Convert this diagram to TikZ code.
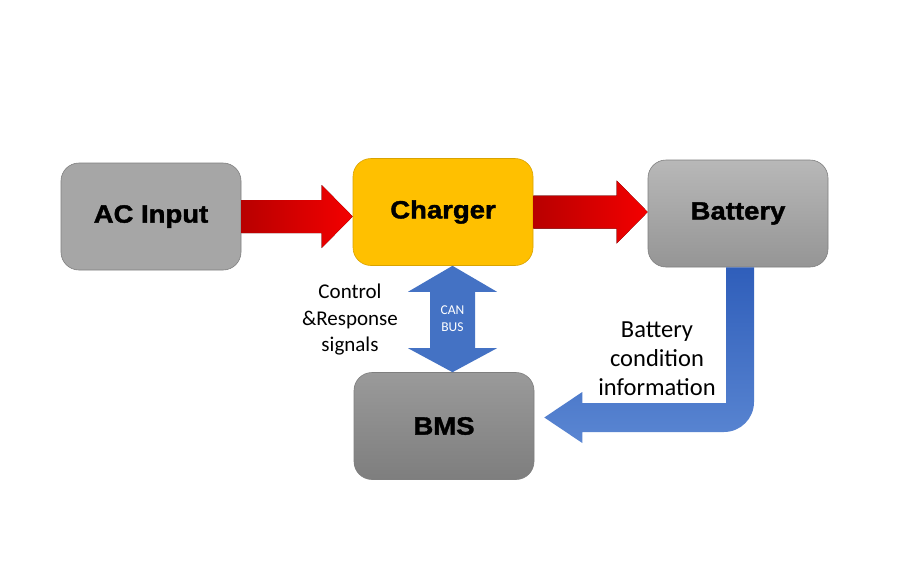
\documentclass[tikz,border=0pt]{standalone}
\usepackage{fontspec}
\setmainfont{Carlito}
\newfontfamily\boxfont{Liberation Sans}[FakeStretch=1.1,FakeBold=1.6]
\usetikzlibrary{calc}

\definecolor{boxedge}{HTML}{7F7F7F}
\definecolor{acgray}{HTML}{A6A6A6}
\definecolor{chargerfill}{HTML}{FFC000}
\definecolor{chargeredge}{HTML}{D9A300}
\definecolor{batttop}{HTML}{B8B8B8}
\definecolor{battbot}{HTML}{959595}
\definecolor{bmstop}{HTML}{9A9A9A}
\definecolor{bmsbot}{HTML}{7E7E7E}
\definecolor{powerdark}{HTML}{B80000}
\definecolor{powerlight}{HTML}{F40000}
\definecolor{canblue}{HTML}{4472C4}
\definecolor{infotop}{HTML}{2F5EBA}
\definecolor{infobot}{HTML}{5A86D2}

\tikzset{
  block/.style={rounded corners=18pt, draw=boxedge, line width=0.6pt,
    minimum width=180pt, minimum height=107pt,
    font=\boxfont\bfseries\fontsize{25}{29}\selectfont},
  power/.style={left color=powerdark, right color=powerlight},
  note/.style={align=center, font=\fontsize{21}{26.5}\selectfont}
}

\begin{document}
\begin{tikzpicture}[x=1pt,y=-1pt]
\useasboundingbox[fill=white] (0,0) rectangle (900,581);

\node[block, fill=acgray] (ac) at (151,216.5) {AC Input};
\node[block, fill=chargerfill, draw=chargeredge] (charger) at (443,212) {Charger};
\node[block, top color=batttop, bottom color=battbot] (battery) at (738,213.5) {Battery};
\node[block, top color=bmstop, bottom color=bmsbot] (bms) at (444,426) {BMS};

% power flow
\foreach \s/\e in {ac/charger, charger/battery}
  \fill[power] ($(\s.east)+(0,-16.5)$) -- ($(\e.west |- \s.east)+(-31,-16.5)$)
    -- ($(\e.west |- \s.east)+(-31,-31.5)$) -- (\e.west |- \s.east)
    -- ($(\e.west |- \s.east)+(-31,31.5)$) -- ($(\e.west |- \s.east)+(-31,16.5)$)
    -- ($(\s.east)+(0,16.5)$) -- cycle;

% CAN bus
\coordinate (c1) at ($(charger.south)+(9.5,0)$);
\coordinate (c2) at (c1 |- bms.north);
\fill[canblue] (c1) -- ($(c1)+(44.5,26)$) -- ($(c1)+(22.5,26)$) -- ($(c2)+(22.5,-24)$)
  -- ($(c2)+(44.5,-24)$) -- (c2) -- ($(c2)+(-44.5,-24)$) -- ($(c2)+(-22.5,-24)$)
  -- ($(c1)+(-22.5,26)$) -- ($(c1)+(-44.5,26)$) -- cycle;
\node[align=center, text=white, font=\fontsize{13.5}{17}\selectfont] (can) at ($(c1)!0.5!(c2)$) {CAN\\BUS};

% battery condition
\coordinate (b1) at ($(battery.south)+(2,0)$);
\coordinate (b2) at ($(bms.east)+(10,-8.5)$);
\coordinate (bc) at (b1 |- b2);
\path[top color=infotop, bottom color=infobot] ($(b1)+(-14,0)$) -- ($(b1)+(14,0)$) -- ($(bc)+(14,-15.5)$)
  .. controls ($(bc)+(14,1.1)$) and ($(bc)+(0.6,14.5)$) .. ($(bc)+(-16,14.5)$)
  -- ($(b2)+(38,14.5)$) -- ($(b2)+(38,25.5)$) -- (b2) -- ($(b2)+(38,-25.5)$)
  -- ($(b2)+(38,-14.5)$) -- ($(bc)+(-14,-14.5)$) -- cycle;

\node[note] (ctrl) at (350,320) {Control\\\&Response\\signals};
\node[note, font=\fontsize{24.5}{29}\selectfont] (info) at (657,359) {Battery\\condition\\information};
\end{tikzpicture}
\end{document}
